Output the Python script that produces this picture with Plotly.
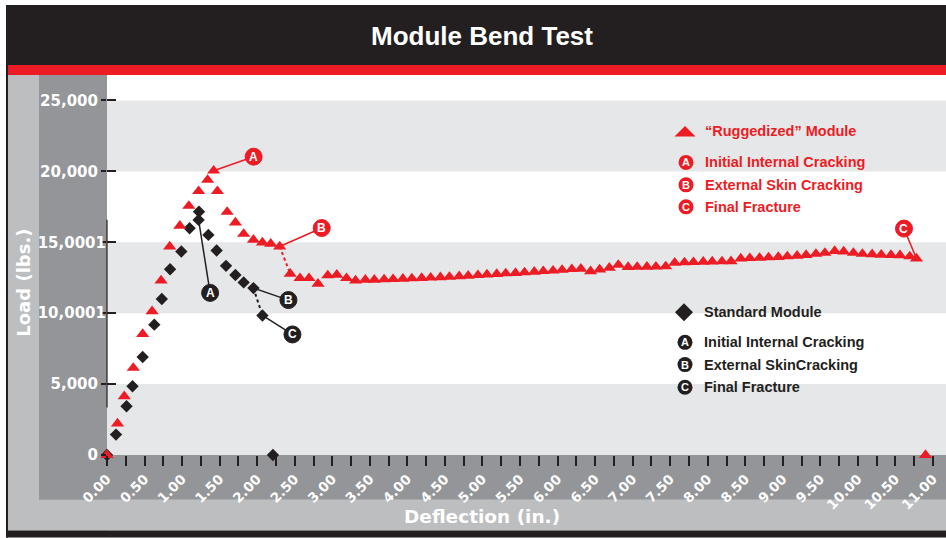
import plotly.graph_objects as go

# ---------------- data ----------------
rugged_x = [0.00, 0.14, 0.23, 0.35, 0.475, 0.60, 0.72, 0.835, 0.97, 1.09, 1.22, 1.34, 1.42,
            1.47, 1.60, 1.71, 1.82, 1.95, 2.07, 2.18, 2.30,
            2.44, 2.57, 2.69, 2.81, 2.94, 3.06, 3.19, 3.31, 3.44, 3.56, 3.69, 3.81, 3.94,
            4.06, 4.19, 4.31, 4.44, 4.56, 4.69, 4.81, 4.94, 5.06, 5.19, 5.31, 5.44, 5.56,
            5.69, 5.81, 5.94, 6.06, 6.19, 6.31, 6.44, 6.56, 6.69, 6.81, 6.94, 7.06, 7.19,
            7.31, 7.44, 7.56, 7.69, 7.81, 7.94, 8.06, 8.19, 8.31, 8.44, 8.56, 8.69, 8.81,
            8.94, 9.06, 9.19, 9.31, 9.44, 9.56, 9.69, 9.81, 9.94, 10.06, 10.19, 10.31,
            10.44, 10.56, 10.69, 10.78, 10.90]
rugged_y = [0, 2220, 4140, 6140, 8530, 10130, 12300, 14700, 16160, 17560, 18600, 19400, 20050,
            18600, 17140, 16390, 15590, 15170, 14980, 14890, 14700,
            12780, 12470, 12470, 12070, 12660, 12710, 12470, 12300, 12350, 12350, 12380, 12400, 12420,
            12450, 12480, 12500, 12530, 12560, 12600, 12640, 12680, 12720, 12760, 12800, 12830, 12870,
            12920, 12960, 13000, 13050, 13100, 13130, 12950, 13080, 13200, 13400, 13250, 13260, 13270,
            13280, 13300, 13550, 13580, 13600, 13620, 13640, 13650, 13660, 13850, 13880, 13900, 13930,
            13960, 14000, 14050, 14100, 14180, 14250, 14380, 14350, 14250, 14180, 14150, 14120,
            14100, 14080, 14000, 13850, 0]

std_x = [0.00, 0.12, 0.26, 0.34, 0.475, 0.63, 0.73, 0.84, 0.99, 1.10, 1.225, 1.22, 1.35, 1.46,
         1.585, 1.71, 1.82, 1.95, 2.07, 2.21]
std_y = [0, 1440, 3440, 4850, 6910, 9190, 11000, 13100, 14350, 15990, 17160, 16580, 15520, 14420,
         13340, 12690, 12170, 11770, 9840, 0]

y_tick_vals = [0, 5000, 10000, 15000, 20000, 25000]
y_tick_text = ["0", "5,000", "10,0001", "15,0001", "20,000", "25,000"]
band_ranges = [(0, 5000), (10000, 15000), (20000, 25000)]

title_text = "Module Bend Test"
x_title = "Deflection (in.)"
y_title = "Load (lbs.)"

rugged_legend = ["\u201cRuggedized\u201d Module", "Initial Internal Cracking",
                 "External Skin Cracking", "Final Fracture"]
std_legend = ["Standard Module", "Initial Internal Cracking",
              "External SkinCracking", "Final Fracture"]
letters = ["A", "B", "C"]

# callouts: (point index, letter)
rugged_callouts = [(12, "A"), (20, "B"), (88, "C")]
std_callouts = [(11, "A"), (17, "B"), (18, "C")]

# ---------------- style ----------------
W, H = 946, 538
ML, MR, MT = 107, 0, 75
Y0PX = 455.5
MB = H - Y0PX
PW, PH = W - ML - MR, Y0PX - MT
RED = "#ed1c24"
BLK = "#231f20"
DGRAY = "#939598"
LGRAY = "#bcbec0"
BAND = "#e6e7e8"
X_MAX = 11.173
Y_MAX = 26796


def fx(px):
    return (px - ML) / PW


def fy(py):
    return (Y0PX - py) / PH


shapes = []
annotations = []


def prect(x0, y0, x1, y1, color):
    shapes.append(dict(type="rect", xref="paper", yref="paper", x0=fx(x0), x1=fx(x1),
                       y0=fy(y0), y1=fy(y1), fillcolor=color, line=dict(width=0),
                       layer="below"))


# frame panels
prect(8, 75, ML, 531, LGRAY)
prect(8, Y0PX, W, 531, LGRAY)
prect(39, 75, ML, 500, DGRAY)
prect(39, Y0PX, W, 500, DGRAY)
prect(6, 5, W, 65, BLK)
prect(6, 65, W, 75, RED)
prect(6, 531, W, 538, BLK)
prect(6, 5, 8, 538, BLK)

# background bands
for lo, hi in band_ranges:
    shapes.append(dict(type="rect", xref="paper", yref="y", x0=0, x1=1, y0=lo, y1=hi,
                       fillcolor=BAND, line=dict(width=0), layer="below"))

# stray axis segment
shapes.append(dict(type="line", xref="paper", yref="paper", x0=0, x1=0, y0=fy(408), y1=fy(220),
                   line=dict(color=BLK, width=1.2), layer="above"))


def callout(xv, yv, letter, dx, dy, color, r=8.5):
    shapes.append(dict(type="line", xref="x", yref="y", xsizemode="pixel", ysizemode="pixel",
                       xanchor=xv, yanchor=yv, x0=0, y0=0, x1=dx, y1=dy,
                       line=dict(color=color, width=1.5), layer="below"))
    shapes.append(dict(type="circle", xref="x", yref="y", xsizemode="pixel", ysizemode="pixel",
                       xanchor=xv, yanchor=yv, x0=dx - r, x1=dx + r, y0=dy - r, y1=dy + r,
                       fillcolor=color, line=dict(color=color, width=1), layer="above"))
    annotations.append(dict(x=xv, y=yv, xref="x", yref="y", xshift=dx, yshift=dy,
                            text=letter, showarrow=False,
                            font=dict(family="Liberation Sans", size=12, color="white",
                                      weight="bold"),
                            xanchor="center", yanchor="middle"))


r_off = {"A": (40, 14), "B": (42, 18.5), "C": (-12.5, 30)}
s_off = {"A": (11.5, -73), "B": (35, -12), "C": (30, -19)}
for i, letter in rugged_callouts:
    callout(rugged_x[i], rugged_y[i], letter, *r_off[letter], RED)
for i, letter in std_callouts:
    callout(std_x[i], std_y[i], letter, *s_off[letter], BLK)


# legend
def legend_block(px_sym, px_text, rows_py, labels, color, sym_path):
    shapes.append(dict(type="path", xref="paper", yref="paper", xsizemode="pixel",
                       ysizemode="pixel", xanchor=fx(px_sym), yanchor=fy(rows_py[0]),
                       path=sym_path, fillcolor=color, line=dict(width=0), layer="above"))
    for k, (py, lab) in enumerate(zip(rows_py, labels)):
        annotations.append(dict(x=fx(px_text), y=fy(py), xref="paper", yref="paper",
                                text=lab, showarrow=False, xanchor="left", yanchor="middle",
                                font=dict(family="Liberation Sans", size=14.5, color=color,
                                          weight="bold")))
        if k > 0:
            r = 7.5
            shapes.append(dict(type="circle", xref="paper", yref="paper", xsizemode="pixel",
                               ysizemode="pixel", xanchor=fx(px_sym + 1), yanchor=fy(py),
                               x0=-r, x1=r, y0=-r, y1=r, fillcolor=color,
                               line=dict(width=0), layer="above"))
            annotations.append(dict(x=fx(px_sym + 1), y=fy(py), xref="paper", yref="paper",
                                    text=letters[k - 1], showarrow=False,
                                    xanchor="center", yanchor="middle",
                                    font=dict(family="Liberation Sans", size=11, color="white",
                                              weight="bold")))


legend_block(685, 703, [131.5, 162.5, 185, 207], rugged_legend, RED,
             "M -10.5,-5 L 10.5,-5 L 0,5.5 Z")
legend_block(684, 702, [312.5, 342.7, 365, 387.7], std_legend, BLK,
             "M -9,0 L 0,9 L 9,0 L 0,-9 Z")

# titles
annotations.append(dict(x=fx(482), y=fy(36), xref="paper", yref="paper", text=title_text,
                        showarrow=False, xanchor="center", yanchor="middle",
                        font=dict(family="Liberation Sans", size=26, color="white",
                                  weight="bold")))
annotations.append(dict(x=fx(482), y=fy(517), xref="paper", yref="paper", text=x_title,
                        showarrow=False, xanchor="center", yanchor="middle",
                        font=dict(family="DejaVu Sans", size=18.5, color="white",
                                  weight="bold")))
annotations.append(dict(x=fx(24), y=fy(283), xref="paper", yref="paper", text=y_title,
                        showarrow=False, xanchor="center", yanchor="middle", textangle=-90,
                        font=dict(family="DejaVu Sans", size=18, color="white",
                                  weight="bold")))

fig = go.Figure()
fig.add_trace(go.Scatter(x=std_x, y=std_y, mode="markers", cliponaxis=False,
                         marker=dict(symbol="diamond", size=9.5, color=BLK),
                         showlegend=False, hoverinfo="skip"))
# dotted segments between B and C
i_b = rugged_callouts[1][0]
fig.add_trace(go.Scatter(x=rugged_x[i_b:i_b + 2], y=rugged_y[i_b:i_b + 2], mode="lines",
                         line=dict(color=RED, width=2, dash="dot"), showlegend=False,
                         hoverinfo="skip"))
j_b = std_callouts[1][0]
fig.add_trace(go.Scatter(x=std_x[j_b:j_b + 2], y=std_y[j_b:j_b + 2], mode="lines",
                         line=dict(color=BLK, width=2, dash="dot"), showlegend=False,
                         hoverinfo="skip"))
fig.add_trace(go.Scatter(x=rugged_x, y=rugged_y, mode="markers", cliponaxis=False,
                         marker=dict(symbol="triangle-up", size=11.5, color=RED),
                         showlegend=False, hoverinfo="skip"))
fig.add_trace(go.Scatter(x=[None], y=[None], yaxis="y2", showlegend=False, hoverinfo="skip"))

# labels whose trailing "1" sits on the tick go on the inside-tick axis
long_lbl = [t if t.endswith("0001") else "" for t in y_tick_text]
short_lbl = ["" if t.endswith("0001") else t for t in y_tick_text]

tickfont = dict(family="DejaVu Sans", size=15, color="white", weight="bold")
fig.update_layout(
    width=W, height=H,
    margin=dict(l=ML, r=MR, t=MT, b=MB, pad=0),
    paper_bgcolor="white", plot_bgcolor="white",
    shapes=shapes, annotations=annotations,
    xaxis=dict(range=[0, X_MAX], tick0=0, dtick=0.5, tickformat=".2f", tickangle=-45,
               ticks="outside", ticklen=10, tickwidth=1.5, tickcolor=BLK,
               minor=dict(dtick=0.25, ticks="outside", ticklen=10, tickwidth=1.5,
                          tickcolor=BLK, showgrid=False),
               showgrid=False, zeroline=False, showline=False, automargin=False,
               tickfont=dict(family="DejaVu Sans", size=13.5, color="white", weight="bold")),
    yaxis=dict(range=[0, Y_MAX], tickvals=y_tick_vals, ticktext=short_lbl,
               ticks="outside", ticklen=5, tickwidth=1.5, tickcolor=BLK,
               showgrid=False, zeroline=False, showline=False, automargin=False,
               tickfont=tickfont),
    yaxis2=dict(range=[0, Y_MAX], overlaying="y", side="left", anchor="x",
                tickvals=y_tick_vals, ticktext=long_lbl, ticks="inside", ticklen=9,
                tickwidth=1.5, tickcolor=BLK, showticklabels=True, tickfont=tickfont,
                showgrid=False, zeroline=False, showline=False, automargin=False),
    showlegend=False,
)

fig.write_html("out.html", config={"displayModeBar": False},
               post_script="document.body.style.margin='0px';document.body.style.overflow='hidden';")
